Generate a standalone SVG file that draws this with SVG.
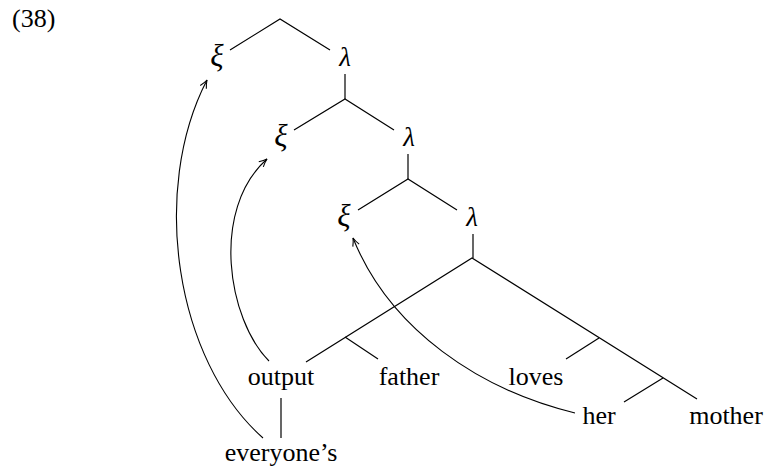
<svg xmlns="http://www.w3.org/2000/svg" width="765" height="471" viewBox="0 0 765 471">
<style>
  .w { font-family: "Liberation Serif", "Times New Roman", serif; font-size: 26px; fill: #000; text-anchor: middle; }
  .x { font-family: "Liberation Serif", "Times New Roman", serif; font-style: italic; font-size: 31px; fill: #000; text-anchor: middle; }
  .l { font-family: "Liberation Serif", "Times New Roman", serif; font-style: italic; font-size: 27px; fill: #000; text-anchor: middle; }
  .e { fill: none; stroke: #000; stroke-width: 1.2; stroke-linecap: butt; stroke-linejoin: miter; }
  .a { fill: none; stroke: #000; stroke-width: 1.1; }
</style>
<defs>
  <marker id="arr" viewBox="-9 -5 10 10" markerWidth="10" markerHeight="10" refX="0" refY="0" markerUnits="userSpaceOnUse" orient="auto" overflow="visible">
    <path d="M-8,-3.4 Q-3.5,-0.9 0,0 Q-3.5,0.9 -8,3.4" fill="none" stroke="#000" stroke-width="1.1"/>
  </marker>
</defs>
<rect width="765" height="471" fill="#fff"/>
<text x="12" y="27" class="w" style="text-anchor:start">(38)</text>
<g id="connectors">
  <path class="e" d="M230,50 L280,19 L330,50"/>
  <path class="e" d="M345,74 V99"/>
  <path class="e" d="M294,130 L345,99 L394,130"/>
  <path class="e" d="M408,154 V179"/>
  <path class="e" d="M358,210 L408,179 L457,210"/>
  <path class="e" d="M473,234 V258"/>
  <path class="e" d="M306,362 L472,258 L697,399"/>
  <path class="e" d="M345,337 L378,359"/>
  <path class="e" d="M599,338 L566,359"/>
  <path class="e" d="M663,378 L624,402"/>
  <path class="e" d="M281,398 V438"/>
  <path class="a" d="M263,438 C175,360 150,190 207,80" marker-end="url(#arr)"/>
  <path class="a" d="M269,361 C228,320 210,210 267,159" marker-end="url(#arr)"/>
  <path class="a" d="M575,413 C480,390 390,330 353,238" marker-end="url(#arr)"/>
</g>
<g id="xi1"><text x="217" y="66" class="x">ξ</text></g>
<g id="lambda1"><text x="345" y="66" class="l">λ</text></g>
<g id="xi2"><text x="281" y="146" class="x">ξ</text></g>
<g id="lambda2"><text x="409" y="146" class="l">λ</text></g>
<g id="xi3"><text x="344" y="226" class="x">ξ</text></g>
<g id="lambda3"><text x="472" y="226" class="l">λ</text></g>
<g id="output"><text x="281" y="385" class="w">output</text></g>
<g id="father"><text x="409" y="385" class="w">father</text></g>
<g id="loves"><text x="536" y="385" class="w">loves</text></g>
<g id="her"><text x="599" y="424" class="w">her</text></g>
<g id="mother"><text x="726" y="424" class="w">mother</text></g>
<g id="everyones"><text x="281" y="461" class="w">everyone’s</text></g>
</svg>
